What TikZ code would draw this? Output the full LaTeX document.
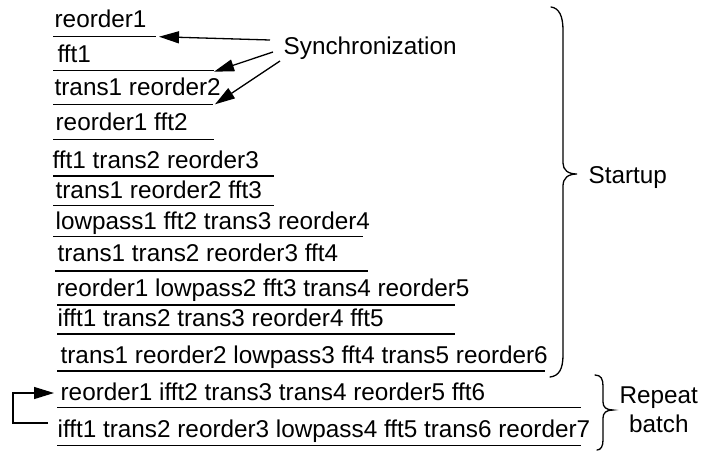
\documentclass[tikz,border=0pt]{standalone}
\usepackage{fontspec}
\setmainfont{Liberation Sans}
\usetikzlibrary{arrows.meta}

\begin{document}
\begin{tikzpicture}[
  x={(1pt,0)}, y={(0,-1pt)},
  line width=1.3pt,
  row/.style={anchor=base west, inner sep=0pt, font=\fontsize{24.3}{29}\selectfont},
  note/.style={inner sep=0pt, font=\fontsize{24.3}{29}\selectfont, align=center},
  rule/.style={line width=1.3pt},
  tip/.style={-{Triangle[length=20pt,width=12pt]}},
  brace/.style={line width=1.3pt, line cap=round}
]
\useasboundingbox (0,0) rectangle (701,451);

% schedule rows
\node[row] (t1)  at (54,27.7)  {reorder1};
\node[row] (t2)  at (57,62.5)  {fft1};
\node[row] (t3)  at (54,95.3)  {trans1 reorder2};
\node[row] (t4)  at (55,130.7) {reorder1 fft2};
\node[row] (t5)  at (52,168.3) {fft1 trans2 reorder3};
\node[row] (t6)  at (55,198.3) {trans1 reorder2 fft3};
\node[row] (t7)  at (55,229.3) {lowpass1 fft2 trans3 reorder4};
\node[row] (t8)  at (57,261)   {trans1 trans2 reorder3 fft4};
\node[row] (t9)  at (56,296)   {reorder1 lowpass2 fft3 trans4 reorder5};
\node[row] (t10) at (57,326.7) {ifft1 trans2 trans3 reorder4 fft5};
\node[row] (t11) at (60,363)   {trans1 reorder2 lowpass3 fft4 trans5 reorder6};
\node[row] (t12) at (60,400)   {reorder1 ifft2 trans3 trans4 reorder5 fft6};
\node[row] (t13) at (57,437)   {ifft1 trans2 reorder3 lowpass4 fft5 trans6 reorder7};

% underlines below the rows
\coordinate (u1) at (156,36.7);
\coordinate (u2) at (214,70.7);
\coordinate (u3) at (213,104.3);
\draw[rule] (53,36.7)  -- (u1);
\draw[rule] (53,70.7)  -- (u2);
\draw[rule] (53,104.3) -- (u3);
\draw[rule] (53,139.3) -- (214,139.3);
\draw[rule] (53,176)   -- (274,176);
\draw[rule] (53,205.7) -- (274,205.7);
\draw[rule] (53,236.7) -- (363,236.7);
\draw[rule] (55,271)   -- (368,271);
\draw[rule] (57,305)   -- (455,305);
\draw[rule] (57,334)   -- (455,334);
\draw[rule] (57,371)   -- (545,371);
\draw[rule] (57,407.3) -- (581,407.3);
\draw[rule] (57,445.7) -- (581,445.7);

% synchronization pointers
\node[note, anchor=west] (sync) at (283,48) {Synchronization};
\coordinate (s1) at (270,40);
\coordinate (s2) at (273,52);
\coordinate (s3) at (280,61);
\draw[tip] (s1) -- ([xshift=3pt]u1);
\draw[tip] (s2) -- ([yshift=-1pt]u2);
\draw[tip] (s3) -- ([xshift=2pt]u3);

% loop back for the repeated batch
\coordinate (lstart) at (48,423);
\coordinate (lend) at (54,393);
\draw[tip] (lstart) -- (13,423) |- (lend);

% startup brace
\draw[brace] (551,7) .. controls (559,8) and (563,16) .. (563,30)
  -- (563,163) .. controls (563,170) and (568,174) .. (577,174)
  .. controls (568,174) and (563,178) .. (563,186)
  -- (563,355) .. controls (563,369) and (559,376) .. (550,377);
\node[note, anchor=west] (startup) at (588,178) {Startup};

% repeat brace
\draw[brace] (595,375) .. controls (601,375) and (603,379) .. (603,386)
  -- (603,402) .. controls (603,407) and (606,410) .. (613,410)
  .. controls (606,410) and (603,413) .. (603,418)
  -- (603,440) .. controls (603,446) and (601,450) .. (597,450);
\node[note, anchor=west] (repeat) at (619,410) {Repeat\\batch};
\end{tikzpicture}
\end{document}
